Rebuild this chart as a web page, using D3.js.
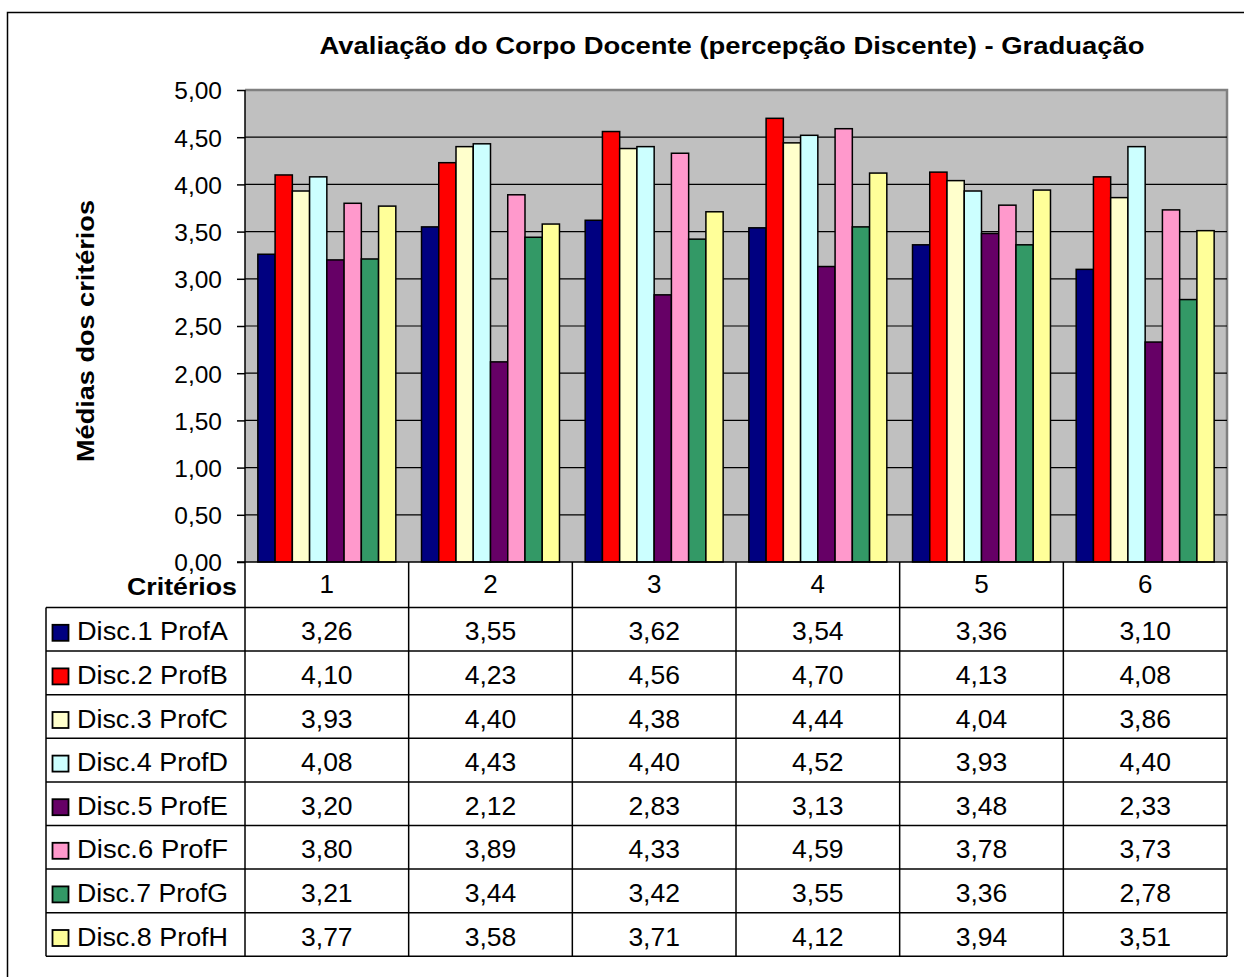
<!DOCTYPE html>
<html><head><meta charset="utf-8">
<script src="https://cdn.jsdelivr.net/npm/d3@7"></script>
<style>body{margin:0;background:#fff}svg{display:block}text{font-family:"Liberation Sans",Arial,sans-serif}</style>
</head><body>
<script>
const categories = ["1","2","3","4","5","6"];
const seriesNames = ["Disc.1 ProfA","Disc.2 ProfB","Disc.3 ProfC","Disc.4 ProfD","Disc.5 ProfE","Disc.6 ProfF","Disc.7 ProfG","Disc.8 ProfH"];
const seriesColors = ["#000080","#FF0000","#FFFFCC","#CCFFFF","#660066","#FF99CC","#339966","#FFFF99"];
const s1 = [3.26,3.55,3.62,3.54,3.36,3.10];
const s2 = [4.10,4.23,4.56,4.70,4.13,4.08];
const s3 = [3.93,4.40,4.38,4.44,4.04,3.86];
const s4 = [4.08,4.43,4.40,4.52,3.93,4.40];
const s5 = [3.20,2.12,2.83,3.13,3.48,2.33];
const s6 = [3.80,3.89,4.33,4.59,3.78,3.73];
const s7 = [3.21,3.44,3.42,3.55,3.36,2.78];
const s8 = [3.77,3.58,3.71,4.12,3.94,3.51];
const seriesValues = [s1,s2,s3,s4,s5,s6,s7,s8];
const yTicks = [0,0.5,1,1.5,2,2.5,3,3.5,4,4.5,5];
const title = "Avaliação do Corpo Docente (percepção Discente) - Graduação";
const yLabel = "Médias dos critérios";
const tableHeader = "Critérios";

const W=1244,H=977;
const svg=d3.select("body").append("svg").attr("width",W).attr("height",H);
const fmt=v=>d3.format(".2f")(v).replace(".",",");

// outer frame
svg.append("path").attr("d","M7.5,977 L7.5,12.5 L1244,12.5").attr("fill","none").attr("stroke","#000").attr("stroke-width",1.5);

const pl=245, pr=1227, pt=90, pb=562;
const x=d3.scaleBand().domain(categories).range([pl,pr]).paddingInner(0).paddingOuter(0);
const y=d3.scaleLinear().domain([0,5]).range([pb,pt]);
const gap=25.7/163.7;
const xs=d3.scaleBand().domain(d3.range(8)).range([x.bandwidth()*gap/2, x.bandwidth()*(1-gap/2)]).padding(0);

// plot area
svg.append("rect").attr("x",pl).attr("y",pt).attr("width",pr-pl).attr("height",pb-pt).attr("fill","#C0C0C0");
svg.append("path").attr("d",`M${pl},${pt} L${pr},${pt} L${pr},${pb}`).attr("fill","none").attr("stroke","#808080").attr("stroke-width",2.5);
// gridlines
svg.append("g").selectAll("line").data(yTicks.filter(t=>t>0&&t<5)).join("line")
  .attr("x1",pl).attr("x2",pr).attr("y1",d=>y(d)).attr("y2",d=>y(d)).attr("stroke","#000").attr("stroke-width",1.2);

// bars
const g=svg.append("g");
seriesValues.forEach((vals,si)=>{
  g.selectAll(null).data(vals).join("rect")
    .attr("x",(d,i)=>x(categories[i])+xs(si))
    .attr("y",d=>y(d))
    .attr("width",xs.bandwidth())
    .attr("height",d=>pb-y(d))
    .attr("fill",seriesColors[si]).attr("stroke","#000").attr("stroke-width",1.5);
});

// y axis
const ya=d3.axisLeft(y).tickValues(yTicks).tickFormat(fmt).tickSize(8).tickPadding(15);
const yg=svg.append("g").attr("transform",`translate(${pl},0)`).call(ya);
yg.selectAll(".tick line").attr("stroke","#000").attr("stroke-width",1.5);
yg.selectAll(".tick text").attr("font-size",24.5).attr("fill","#000").attr("dy","0.36em");
yg.selectAll(".domain").remove();
svg.append("line").attr("x1",pl).attr("x2",pl).attr("y1",pt).attr("y2",pb).attr("stroke","#000").attr("stroke-width",1.5);
svg.append("line").attr("x1",pl-8).attr("x2",pr).attr("y1",pb).attr("y2",pb).attr("stroke","#000").attr("stroke-width",1.5);

// title
svg.append("text").attr("x",732).attr("y",54).attr("text-anchor","middle").attr("font-size",23).attr("font-weight","bold")
  .attr("textLength",825).attr("lengthAdjust","spacingAndGlyphs").text(title);
// y label
svg.append("text").attr("transform","translate(94,331) rotate(-90)").attr("text-anchor","middle").attr("font-size",23).attr("font-weight","bold")
  .attr("textLength",262).attr("lengthAdjust","spacingAndGlyphs").text(yLabel);

// data table
const tl=46, rowH=43.6, headTop=pb, headBot=607.5;
const rowTop=i=>headBot+i*rowH;
const tb=rowTop(8);
const tg=svg.append("g").attr("stroke","#000").attr("stroke-width",1.5);
x.domain().forEach(c=>{tg.append("line").attr("x1",x(c)).attr("x2",x(c)).attr("y1",headTop).attr("y2",tb);});
tg.append("line").attr("x1",pr).attr("x2",pr).attr("y1",headTop).attr("y2",tb);
tg.append("line").attr("x1",tl).attr("x2",tl).attr("y1",headBot).attr("y2",tb);
for(let i=0;i<=8;i++){tg.append("line").attr("x1",tl).attr("x2",pr).attr("y1",rowTop(i)).attr("y2",rowTop(i));}

svg.append("text").attr("x",237).attr("y",595).attr("text-anchor","end").attr("font-size",23).attr("font-weight","bold")
  .attr("textLength",110).attr("lengthAdjust","spacingAndGlyphs").text(tableHeader);
svg.selectAll(".cat").data(categories).join("text").attr("class","cat")
  .attr("x",d=>x(d)+x.bandwidth()/2).attr("y",593).attr("text-anchor","middle").attr("font-size",26).text(d=>d);

seriesNames.forEach((n,si)=>{
  const cy=rowTop(si)+rowH/2;
  svg.append("rect").attr("x",52.5).attr("y",cy-4.5).attr("width",16).attr("height",16).attr("fill",seriesColors[si]).attr("stroke","#000").attr("stroke-width",1.8);
  svg.append("text").attr("x",77).attr("y",cy+11).attr("font-size",26.5)
    .attr("textLength",151).attr("lengthAdjust","spacingAndGlyphs").text(n);
  svg.selectAll(null).data(seriesValues[si]).join("text")
    .attr("x",(d,i)=>x(categories[i])+x.bandwidth()/2).attr("y",cy+11).attr("text-anchor","middle").attr("font-size",26.5).text(fmt);
});
</script>
</body></html>
